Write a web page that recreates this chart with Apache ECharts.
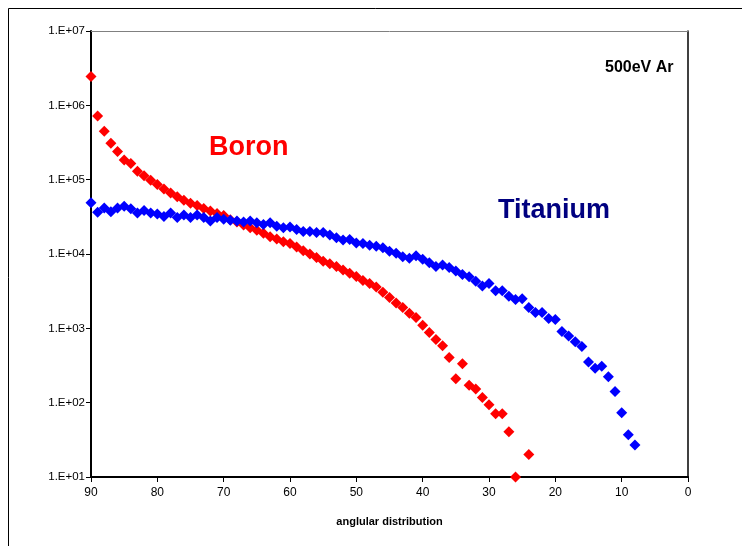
<!DOCTYPE html>
<html>
<head>
<meta charset="utf-8">
<script src="https://cdn.jsdelivr.net/npm/echarts@6/dist/echarts.min.js"></script>
<style>
html,body{margin:0;padding:0;background:#fff;}
#c{width:742px;height:546px;}
</style>
</head>
<body>
<div id="c"></div>
<script>
// angles (degrees)
var boronAngles = [90,89,88,87,86,85,84,83,82,81,80,79,78,77,76,75,74,73,72,71,70,69,68,67,66,65,64,63,62,61,60,59,58,57,56,55,54,53,52,51,50,49,48,47,46,45,44,43,42,41,40,39,38,37,36,35,34,33,32,31,30,29,28,27,26,24];
var boronValues = [2.45e6,7.2e5,4.47e5,3.1e5,2.4e5,1.84e5,1.65e5,1.3e5,1.13e5,9.8e4,8.6e4,7.5e4,6.6e4,5.9e4,5.3e4,4.8e4,4.5e4,4.1e4,3.8e4,3.5e4,3.3e4,2.9e4,2.7e4,2.45e4,2.25e4,2.08e4,1.9e4,1.7e4,1.59e4,1.46e4,1.38e4,1.24e4,1.11e4,1.0e4,9.0e3,8.0e3,7.4e3,6.8e3,6.1e3,5.5e3,5.0e3,4.4e3,4.0e3,3.6e3,3.05e3,2.6e3,2.2e3,1.9e3,1.6e3,1.4e3,1.1e3,880,710,585,405,210,333,171,153,117,94,71,71,40.6,10,20];
var titaniumAngles = [90,89,88,87,86,85,84,83,82,81,80,79,78,77,76,75,74,73,72,71,70,69,68,67,66,65,64,63,62,61,60,59,58,57,56,55,54,53,52,51,50,49,48,47,46,45,44,43,42,41,40,39,38,37,36,35,34,33,32,31,30,29,28,27,26,25,24,23,22,21,20,19,18,17,16,15,14,13,12,11,10,9,8];
var titaniumValues = [4.9e4,3.65e4,4.15e4,3.7e4,4.15e4,4.4e4,4.07e4,3.57e4,3.85e4,3.57e4,3.46e4,3.2e4,3.57e4,3.1e4,3.35e4,3.1e4,3.35e4,3.1e4,2.78e4,3.1e4,2.94e4,2.84e4,2.78e4,2.7e4,2.78e4,2.63e4,2.5e4,2.63e4,2.37e4,2.25e4,2.3e4,2.13e4,2.0e4,2.0e4,1.95e4,1.95e4,1.8e4,1.66e4,1.54e4,1.57e4,1.41e4,1.38e4,1.31e4,1.27e4,1.21e4,1.09e4,1.02e4,9.2e3,8.8e3,9.5e3,8.5e3,7.6e3,6.8e3,7.1e3,6.6e3,5.9e3,5.3e3,4.95e3,4.3e3,3.7e3,4.0e3,3.2e3,3.2e3,2.7e3,2.45e3,2.5e3,1.9e3,1.63e3,1.63e3,1.36e3,1.31e3,910,790,658,571,352,290,309,223,141,73,37,27];
var xTicks = [0,10,20,30,40,50,60,70,80,90];
var yTickLabels = ['1.E+01','1.E+02','1.E+03','1.E+04','1.E+05','1.E+06','1.E+07'];

function pairs(xs, ys){ var out=[]; for(var i=0;i<xs.length;i++){ out.push([xs[i], ys[i]]); } return out; }

var chart = echarts.init(document.getElementById('c'), null, {renderer:'canvas'});
var font = 'Liberation Sans, Arial, sans-serif';
chart.setOption({
  animation:false,
  backgroundColor:'#fff',
  grid:{left:91, right:54, top:31, bottom:69, show:false},
  graphic:[
    {type:'rect', shape:{x:8.5, y:8.5, width:760, height:560}, style:{fill:null, stroke:'#000', lineWidth:1}, z:-10},
    {type:'text', left:605, top:60, style:{text:'500eV Ar', font:'bold 16px '+font, fill:'#000'}},
    {type:'text', left:209, top:134, style:{text:'Boron', font:'bold 27px '+font, fill:'#FF0000'}},
    {type:'text', left:498, top:197, style:{text:'Titanium', font:'bold 27px '+font, fill:'#000080'}}
  ],
  xAxis:[{
    type:'value', min:0, max:90, interval:10, inverse:true, position:'bottom',
    name:'anglular distribution', nameLocation:'middle', nameGap:39,
    nameTextStyle:{fontFamily:font, fontSize:11, fontWeight:'bold', color:'#000'},
    axisLine:{show:true, onZero:false, lineStyle:{color:'#000', width:2}},
    axisTick:{show:true, length:5, lineStyle:{color:'#000', width:1}},
    axisLabel:{fontFamily:font, fontSize:12, color:'#000', margin:10},
    splitLine:{show:false}
  },{
    type:'value', min:0, max:90, interval:10, inverse:true, position:'top',
    axisLine:{show:true, onZero:false, lineStyle:{color:'#808080', width:1}},
    axisTick:{show:false}, axisLabel:{show:false}, splitLine:{show:false}
  }],
  yAxis:[{
    type:'log', logBase:10, min:10, max:1e7, position:'left',
    axisLine:{show:true, onZero:false, lineStyle:{color:'#000', width:2}},
    axisTick:{show:true, length:5, lineStyle:{color:'#000', width:1}},
    axisLabel:{fontFamily:font, fontSize:11.5, color:'#000', margin:6,
      formatter:function(v){ var e=Math.round(Math.log10(v)); return yTickLabels[e-1] || ''; }},
    splitLine:{show:false}, minorTick:{show:false}
  },{
    type:'log', logBase:10, min:10, max:1e7, position:'right',
    axisLine:{show:true, onZero:false, lineStyle:{color:'#000', width:1.5}},
    axisTick:{show:false}, axisLabel:{show:false}, splitLine:{show:false}
  }],
  series:[{
    name:'Boron', type:'scatter', xAxisIndex:0, yAxisIndex:0,
    symbol:'diamond', symbolSize:11,
    itemStyle:{color:'#FF0000', opacity:1},
    data:pairs(boronAngles, boronValues), z:3
  },{
    name:'Titanium', type:'scatter', xAxisIndex:0, yAxisIndex:0,
    symbol:'diamond', symbolSize:11,
    itemStyle:{color:'#0000FF', opacity:1},
    data:pairs(titaniumAngles, titaniumValues), z:4
  }]
});
</script>
</body>
</html>
